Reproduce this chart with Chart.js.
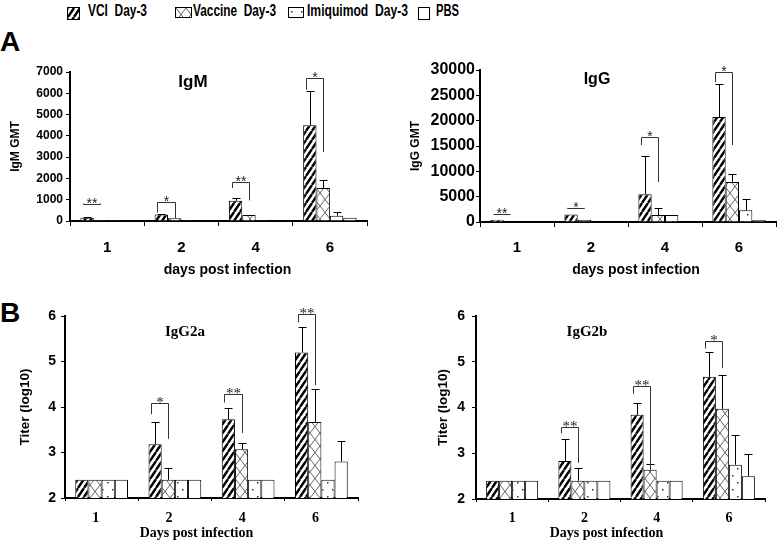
<!DOCTYPE html>
<html>
<head>
<meta charset="utf-8">
<script src="https://cdn.jsdelivr.net/npm/chart.js@4.4.1/dist/chart.umd.min.js"></script>
<style>
  body { margin: 0; background: #fff; width: 777px; height: 541px; position: relative; overflow: hidden; }
  canvas.panel { position: absolute; }
  .lg { position: absolute; top: 2px; font: bold 16px 'Liberation Sans', Arial, sans-serif; line-height: 18px; white-space: pre; color: #000; transform-origin: 0 0; }
  .sw { position: absolute; box-sizing: border-box; border: 1px solid #000; }
  .tag { position: absolute; left: 0; font: bold 28px 'Liberation Sans', Arial, sans-serif; line-height: 28px; }
</style>
</head>
<body>
<canvas class="sw" id="sw0" width="11" height="11" style="left:67px;top:7px"></canvas>
<div class="lg" data-w="59" style="left:88px">VCI  Day-3</div>
<canvas class="sw" id="sw1" width="15" height="9" style="left:175px;top:7px"></canvas>
<div class="lg" data-w="83" style="left:193px">Vaccine  Day-3</div>
<canvas class="sw" id="sw2" width="14" height="9" style="left:288px;top:7px"></canvas>
<div class="lg" data-w="101" style="left:307px">Imiquimod  Day-3</div>
<canvas class="sw" id="sw3" width="10" height="11" style="left:418px;top:7px"></canvas>
<div class="lg" data-w="23" style="left:436px">PBS</div>
<div class="tag" style="top:28px">A</div>
<div class="tag" style="top:299px">B</div>

<canvas class="panel" id="cIgM" width="390" height="230" style="left:0;top:50px"></canvas>
<canvas class="panel" id="cIgG" width="387" height="230" style="left:390px;top:50px"></canvas>
<canvas class="panel" id="cIgG2a" width="390" height="251" style="left:0;top:290px"></canvas>
<canvas class="panel" id="cIgG2b" width="387" height="251" style="left:390px;top:290px"></canvas>

<script>
// ---- data ----
const days = ['1', '2', '4', '6'];
const groups = ['VCI  Day-3', 'Vaccine  Day-3', 'Imiquimod  Day-3', 'PBS'];

// IgM GMT (bar value, top of error bar)
const igmVci = [150, 300, 950, 4500];
const igmVaccine = [50, 130, 280, 1550];
const igmImiquimod = [40, 40, 40, 250];
const igmPbs = [30, 30, 30, 150];
const igmVciErr = [170, 330, 1060, 6100];
const igmVaccineErr = [50, 130, 300, 1930];
const igmImiquimodErr = [40, 40, 40, 430];
const igmPbsErr = [30, 30, 30, 150];
const igmSig = [
  { day: 0, top: 820, left: 820, right: 820, text: '**' },
  { day: 1, top: 880, left: 400, right: 130, text: '*' },
  { day: 2, top: 1830, left: 1550, right: 970, text: '**' },
  { day: 3, top: 6700, left: 6170, right: 3240, text: '*' }
];

// IgG GMT
const iggVci = [450, 1500, 5500, 20700];
const iggVaccine = [60, 400, 1400, 7900];
const iggImiquimod = [0, 0, 1400, 2300];
const iggPbs = [0, 0, 0, 400];
const iggVciErr = [450, 1500, 13000, 27300];
const iggVaccineErr = [60, 400, 2700, 9500];
const iggImiquimodErr = [0, 0, 1400, 4500];
const iggPbsErr = [0, 0, 0, 400];
const iggSig = [
  { day: 0, top: 1500, left: 1500, right: 1500, text: '**' },
  { day: 1, top: 2800, left: 2800, right: 2800, text: '*' },
  { day: 2, top: 16800, left: 15200, right: 7900, text: '*' },
  { day: 3, top: 29600, left: 27600, right: 15200, text: '*' }
];

// IgG2a titer (log10)
const g2aVci = [2.4, 3.18, 3.73, 5.2];
const g2aVaccine = [2.4, 2.4, 3.07, 3.67];
const g2aImiquimod = [2.4, 2.4, 2.4, 2.4];
const g2aPbs = [2.4, 2.4, 2.4, 2.8];
const g2aVciErr = [2.4, 3.67, 3.98, 5.75];
const g2aVaccineErr = [2.4, 2.67, 3.2, 4.4];
const g2aImiquimodErr = [2.4, 2.4, 2.4, 2.4];
const g2aPbsErr = [2.4, 2.4, 2.4, 3.25];
const g2aSig = [
  { day: 1, top: 4.08, left: 3.84, right: 3.3, text: '*' },
  { day: 2, top: 4.28, left: 4.1, right: 3.43, text: '**' },
  { day: 3, top: 6.05, left: 5.86, right: 4.48, text: '**' }
];

// IgG2b titer (log10)
const g2bVci = [2.4, 2.83, 3.84, 4.67];
const g2bVaccine = [2.4, 2.4, 2.64, 3.97];
const g2bImiquimod = [2.4, 2.4, 2.4, 2.75];
const g2bPbs = [2.4, 2.4, 2.4, 2.5];
const g2bVciErr = [2.4, 3.32, 4.1, 5.22];
const g2bVaccineErr = [2.4, 2.67, 2.77, 4.7];
const g2bImiquimodErr = [2.4, 2.4, 2.4, 3.4];
const g2bPbsErr = [2.4, 2.4, 2.4, 2.98];
const g2bSig = [
  { day: 1, top: 3.57, left: 3.44, right: 2.79, text: '**' },
  { day: 2, top: 4.47, left: 4.3, right: 2.69, text: '**' },
  { day: 3, top: 5.45, left: 5.29, right: 4.86, text: '*' }
];

// ---- styling ----
const SANS = "'Liberation Sans', Arial, sans-serif";
const SERIF = "'Liberation Serif', 'Times New Roman', serif";
Chart.defaults.color = '#000';

// the legend text in the figure is condensed: squeeze each label to its width
document.querySelectorAll('.lg').forEach(el => {
  const w = el.getBoundingClientRect().width;
  el.style.transform = 'scaleX(' + (Number(el.dataset.w) / w) + ')';
});

// hatch fills, one per group
function makeFill(kind) {
  const c = document.createElement('canvas');
  const ctx = c.getContext('2d');
  if (kind === 'stripe') {
    c.width = 6; c.height = 9;
    ctx.fillStyle = '#fff'; ctx.fillRect(0, 0, 6, 9);
    ctx.strokeStyle = '#000'; ctx.lineWidth = 2.4;
    ctx.beginPath();
    for (let k = -1; k <= 1; k++) { ctx.moveTo(k * 6, 9); ctx.lineTo(k * 6 + 6, 0); }
    ctx.stroke();
  } else if (kind === 'cross') {
    c.width = 10; c.height = 13;
    ctx.fillStyle = '#fff'; ctx.fillRect(0, 0, 10, 13);
    ctx.strokeStyle = '#555'; ctx.lineWidth = 0.9;
    ctx.beginPath();
    ctx.moveTo(0, 0); ctx.lineTo(10, 13);
    ctx.moveTo(10, 0); ctx.lineTo(0, 13);
    ctx.stroke();
  } else if (kind === 'dots') {
    c.width = 10; c.height = 14;
    ctx.fillStyle = '#fff'; ctx.fillRect(0, 0, 10, 14);
    ctx.fillStyle = '#333';
    ctx.fillRect(2, 3, 1.5, 1.5);
    ctx.fillRect(7, 10, 1.5, 1.5);
  } else {
    c.width = 4; c.height = 4;
    ctx.fillStyle = '#fff'; ctx.fillRect(0, 0, 4, 4);
  }
  return c.getContext('2d').createPattern(c, 'repeat');
}
const fillKinds = ['stripe', 'cross', 'dots', 'plain'];
const fills = fillKinds.map(makeFill);

fillKinds.forEach((k, i) => {
  const sw = document.getElementById('sw' + i);
  const ctx = sw.getContext('2d');
  ctx.fillStyle = fills[i];
  ctx.fillRect(0, 0, sw.width, sw.height);
});

// error bars, significance brackets, panel title and x-axis title
function makeMarks(p) {
  return {
    id: 'marks',
    afterDatasetsDraw(chart) {
      const { ctx, chartArea } = chart;
      const y = chart.scales.y;
      ctx.save();
      ctx.strokeStyle = '#000';
      ctx.lineWidth = 1;
      p.errors.forEach((errs, di) => {
        const meta = chart.getDatasetMeta(di);
        meta.data.forEach((bar, i) => {
          if (errs[i] <= p.series[di][i]) return;
          const x = Math.round(bar.x) + 0.5;
          const yp = Math.round(y.getPixelForValue(errs[i])) + 0.5;
          ctx.beginPath();
          ctx.moveTo(x, bar.y);
          ctx.lineTo(x, yp);
          ctx.moveTo(x - 4, yp);
          ctx.lineTo(x + 4, yp);
          ctx.stroke();
        });
      });

      const m0 = chart.getDatasetMeta(0);
      const m1 = chart.getDatasetMeta(1);
      ctx.strokeStyle = '#333';
      ctx.fillStyle = '#222';
      ctx.font = p.starFont;
      ctx.textAlign = 'center';
      ctx.textBaseline = 'alphabetic';
      p.sig.forEach(b => {
        const x1 = Math.round(m0.data[b.day].x) - 3.5;
        const x2 = Math.round(m1.data[b.day].x) + 0.5;
        const yt = Math.round(y.getPixelForValue(b.top)) + 0.5;
        ctx.beginPath();
        ctx.moveTo(x1, y.getPixelForValue(b.left));
        ctx.lineTo(x1, yt);
        ctx.lineTo(x2, yt);
        ctx.lineTo(x2, y.getPixelForValue(b.right));
        ctx.stroke();
        ctx.fillText(b.text, (x1 + x2) / 2, yt + 3);
      });

      ctx.fillStyle = '#000';
      ctx.textBaseline = 'middle';
      ctx.font = p.titleFont;
      ctx.fillText(p.title, chartArea.left + p.titleAt[0], chartArea.top + p.titleAt[1]);
      ctx.font = p.xTitleFont;
      ctx.fillText(p.xTitle, (chartArea.left + chartArea.right) / 2 + p.xTitleAt[0], chartArea.bottom + p.xTitleAt[1]);
      ctx.restore();
    }
  };
}

function buildPanel(p) {
  return new Chart(document.getElementById(p.id), {
    type: 'bar',
    data: {
      labels: days,
      datasets: p.series.map((vals, i) => ({
        label: groups[i],
        data: vals,
        backgroundColor: fills[i],
        borderColor: '#000',
        borderWidth: 1,
        categoryPercentage: 0.72,
        barPercentage: 1
      }))
    },
    options: {
      responsive: false,
      animation: false,
      devicePixelRatio: 1,
      layout: { padding: { top: p.padTop, right: p.padRight, left: 0, bottom: 0 } },
      plugins: { legend: { display: false }, tooltip: { enabled: false } },
      scales: {
        x: {
          grid: { drawOnChartArea: false, tickLength: p.xTick, color: '#000' },
          border: { color: '#000', width: 2 },
          ticks: { font: p.xFont, padding: p.xPad, labelOffset: p.xLabelOffset },
          afterFit: s => { s.height = p.xHeight; }
        },
        y: {
          min: p.min, max: p.max,
          grid: { drawOnChartArea: false, tickLength: 4, color: '#000' },
          border: { color: '#000', width: 2 },
          ticks: { stepSize: p.step, font: p.yFont, padding: p.yPad, autoSkip: false, callback: v => String(v) },
          title: { display: true, text: p.yTitle, font: { family: SANS, size: p.yTitleSize, weight: 'bold' }, padding: { top: p.yTitlePad, bottom: 0 } },
          afterFit: s => { s.width = p.yWidth; }
        }
      }
    },
    plugins: [makeMarks(p)]
  });
}

const panelA = {
  xTick: 5, xFont: { family: SANS, size: 15, weight: 'bold' }, xLabelOffset: 0,
  xTitle: 'days post infection', xTitleFont: 'bold 14px ' + SANS, xTitleAt: [9, 49],
  starFont: '14px ' + SANS, yTitleSize: 12
};
const panelB = {
  xTick: 3, xFont: { family: SERIF, size: 14, weight: 'bold' },
  xTitle: 'Days post infection', xTitleFont: 'bold 14px ' + SERIF, xTitleAt: [-15, 35],
  starFont: '15px ' + SERIF, yTitle: 'Titer (log10)', yTitleSize: 13.5,
  min: 2, max: 6, step: 1, yFont: { family: SANS, size: 14, weight: 'bold' },
  titleFont: 'bold 15px ' + SERIF
};

buildPanel({
  ...panelA, id: 'cIgM',
  series: [igmVci, igmVaccine, igmImiquimod, igmPbs],
  errors: [igmVciErr, igmVaccineErr, igmImiquimodErr, igmPbsErr],
  sig: igmSig,
  min: 0, max: 7000, step: 1000,
  yFont: { family: SANS, size: 12, weight: 'bold' }, yPad: 3,
  yTitle: 'IgM GMT', yTitlePad: 8, yWidth: 70,
  padTop: 22, padRight: 23, xHeight: 59, xPad: 13,
  title: 'IgM', titleFont: 'bold 17px ' + SANS, titleAt: [123, 10]
});

buildPanel({
  ...panelA, id: 'cIgG',
  series: [iggVci, iggVaccine, iggImiquimod, iggPbs],
  errors: [iggVciErr, iggVaccineErr, iggImiquimodErr, iggPbsErr],
  sig: iggSig,
  min: 0, max: 30000, step: 5000,
  yFont: { family: SANS, size: 16, weight: 'bold' }, yPad: 1,
  yTitle: 'IgG GMT', yTitlePad: 18, yWidth: 90,
  padTop: 20, padRight: 1, xHeight: 58, xPad: 12,
  xTitleAt: [8, 48],
  title: 'IgG', titleFont: 'bold 16px ' + SANS, titleAt: [117, 10]
});

buildPanel({
  ...panelB, id: 'cIgG2a',
  series: [g2aVci, g2aVaccine, g2aImiquimod, g2aPbs],
  errors: [g2aVciErr, g2aVaccineErr, g2aImiquimodErr, g2aPbsErr],
  sig: g2aSig,
  yPad: 5, yTitlePad: 17, yWidth: 65,
  padTop: 26, padRight: 32, xHeight: 43, xPad: 9, xLabelOffset: -6,
  title: 'IgG2a', titleAt: [120, 16]
});

buildPanel({
  ...panelB, id: 'cIgG2b',
  series: [g2bVci, g2bVaccine, g2bImiquimod, g2bPbs],
  errors: [g2bVciErr, g2bVaccineErr, g2bImiquimodErr, g2bPbsErr],
  sig: g2bSig,
  yPad: 7, yTitlePad: 45, yWidth: 86,
  padTop: 26, padRight: 12, xHeight: 42, xPad: 8, xLabelOffset: 0,
  xTitleAt: [-14, 34],
  title: 'IgG2b', titleAt: [111, 16]
});
</script>
</body>
</html>
